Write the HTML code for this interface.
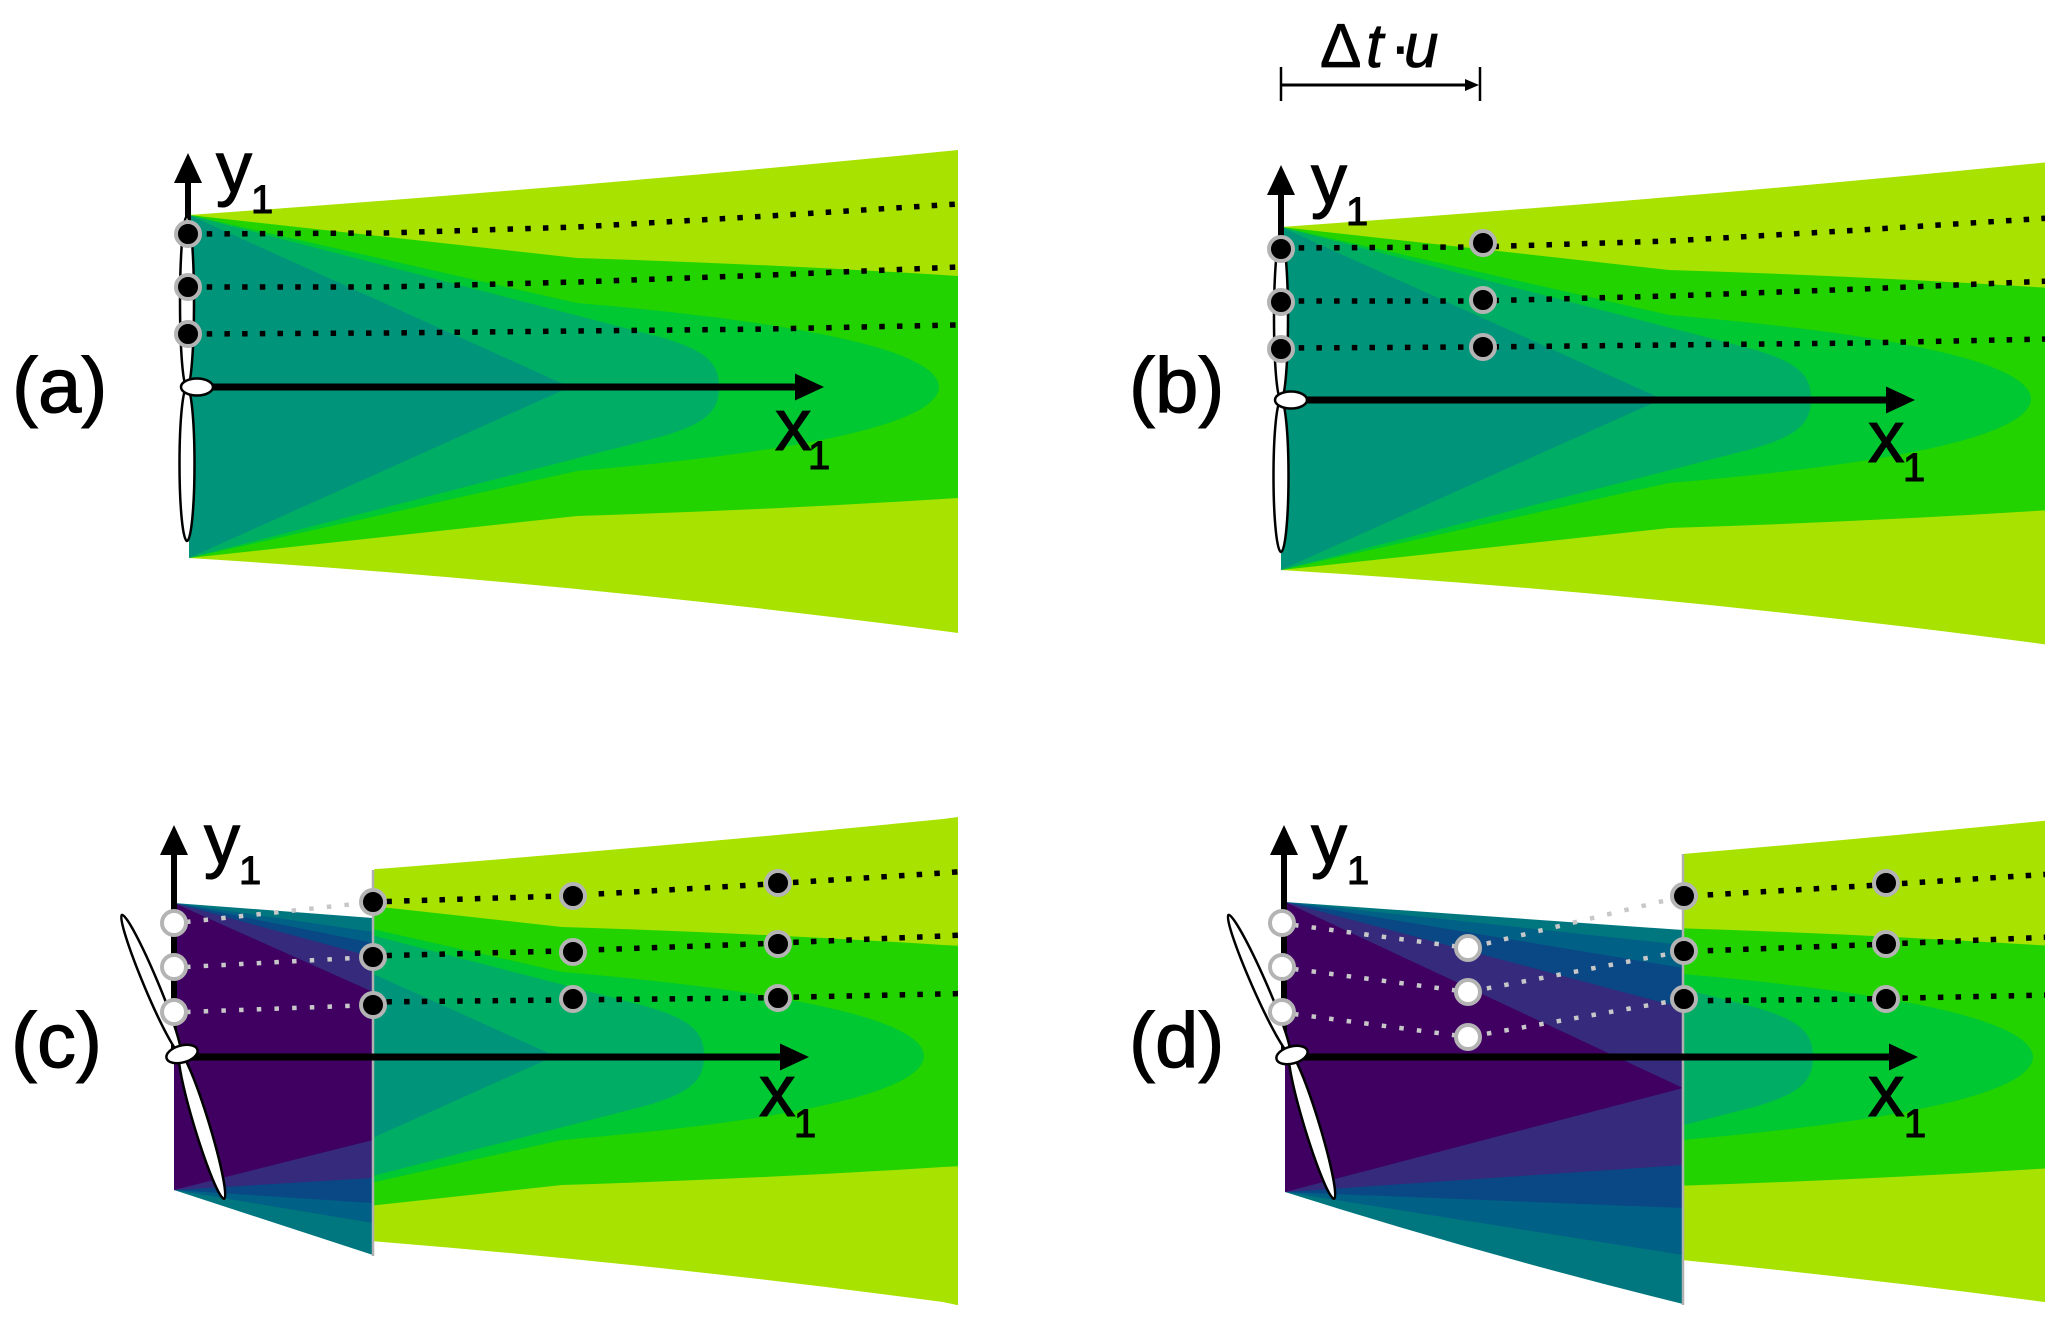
<!DOCTYPE html>
<html>
<head>
<meta charset="utf-8">
<style>
  html,body{margin:0;padding:0;background:#fff;}
  svg{display:block;}
  text{font-family:"Liberation Sans", Arial, sans-serif; fill:#000;}
  .lb{stroke:#000;stroke-width:1.1;}
</style>
</head>
<body>
<svg width="2060" height="1323" viewBox="0 0 2060 1323" xmlns="http://www.w3.org/2000/svg">
  <defs>
    <g id="wake">
      <path fill="#a8e200" d="M189,215 Q575,188 958,150 L995,145 L995,641 L958,633 Q575,582 189,558 Z"/>
      <path fill="#22d300" d="M189,215 L577,258 Q770,264 958,276 L995,278 L995,496 L958,498 Q770,510 577,516 L189,558 Z"/>
      <path fill="#00c832" d="M189,215 L577,303 C800,322 938,350 939,387 C938,424 800,452 577,471 L189,558 Z"/>
      <path fill="#00ad64" d="M189,215 L660,337 C705,350 719,362 719,387 C719,412 705,424 660,437 L189,558 Z"/>
      <path fill="#00957a" d="M189,215 L570,387 L189,558 Z"/>
    </g>
    <g id="lines" fill="none" stroke="#000" stroke-width="5.5" stroke-dasharray="5.5 12.2">
      <polyline points="189,234 385,233 577,227 769,216 958,204 995,201"/>
      <polyline points="189,287 385,287 577,282 769,275 958,267 995,265"/>
      <polyline points="189,334 385,333 577,331 769,329 958,325 995,324"/>
    </g>
    <clipPath id="clipA"><rect x="0" y="0" width="958" height="700"/></clipPath>
    <clipPath id="clipB"><rect x="1100" y="0" width="945" height="700"/></clipPath>
    <clipPath id="clipC"><rect x="374" y="700" width="584" height="623"/></clipPath>
    <clipPath id="clipD"><rect x="1684" y="700" width="361" height="623"/></clipPath>
  </defs>

  <!-- ===================== (a) ===================== -->
  <g clip-path="url(#clipA)">
    <use href="#wake"/>
    <use href="#lines"/>
  </g>
  <line x1="188" y1="387" x2="188" y2="180" stroke="#000" stroke-width="6"/>
  <polygon points="188,153 174,183 202,183" fill="#000"/>
  <line x1="197" y1="387" x2="797" y2="387" stroke="#000" stroke-width="7"/>
  <polygon points="824,387 795,373.5 795,400.5" fill="#000"/>
  <ellipse cx="187" cy="302" rx="7" ry="86" fill="#fff" stroke="#000" stroke-width="2.5"/>
  <ellipse cx="187" cy="464" rx="7.5" ry="77" fill="#fff" stroke="#000" stroke-width="2.5"/>
  <ellipse cx="197" cy="387" rx="16" ry="8.5" fill="#fff" stroke="#000" stroke-width="2.5"/>
  <g fill="#000" stroke="#b4b4b4" stroke-width="4">
    <circle cx="188" cy="234" r="12"/>
    <circle cx="188" cy="287" r="12"/>
    <circle cx="188" cy="334" r="12"/>
  </g>
  <text class="lb" x="216" y="192" font-size="72">y</text>
  <text class="lb" x="251" y="213" font-size="40">1</text>
  <text class="lb" x="775" y="450" font-size="73">x</text>
  <text class="lb" x="808" y="469" font-size="40">1</text>
  <text class="lb" x="12" y="412" font-size="78">(a)</text>

  <!-- ===================== (b) ===================== -->
  <g clip-path="url(#clipB)">
    <use href="#wake" transform="translate(1092,12)"/>
    <use href="#lines" transform="translate(1092,14)"/>
  </g>
  <line x1="1281" y1="400" x2="1281" y2="192" stroke="#000" stroke-width="6"/>
  <polygon points="1281,165 1267,195 1295,195" fill="#000"/>
  <line x1="1291" y1="400" x2="1888" y2="400" stroke="#000" stroke-width="7"/>
  <polygon points="1915,400 1886,386.5 1886,413.5" fill="#000"/>
  <ellipse cx="1281" cy="318" rx="7" ry="82" fill="#fff" stroke="#000" stroke-width="2.5"/>
  <ellipse cx="1281" cy="476" rx="7.5" ry="76" fill="#fff" stroke="#000" stroke-width="2.5"/>
  <ellipse cx="1291" cy="400" rx="16" ry="8.5" fill="#fff" stroke="#000" stroke-width="2.5"/>
  <g fill="#000" stroke="#b4b4b4" stroke-width="4">
    <circle cx="1281" cy="249" r="12"/>
    <circle cx="1281" cy="302" r="12"/>
    <circle cx="1281" cy="349" r="12"/>
    <circle cx="1483" cy="243" r="12"/>
    <circle cx="1483" cy="300" r="12"/>
    <circle cx="1483" cy="347" r="12"/>
  </g>
  <text class="lb" x="1311" y="204" font-size="72">y</text>
  <text class="lb" x="1346" y="225" font-size="40">1</text>
  <text class="lb" x="1868" y="462" font-size="73">x</text>
  <text class="lb" x="1903" y="481" font-size="40">1</text>
  <text class="lb" x="1129" y="412" font-size="78">(b)</text>

  <!-- delta t u -->
  <text class="lb" y="67" font-size="62" style="stroke-width:0.8"><tspan x="1320">Δ</tspan><tspan x="1366" font-style="italic">t</tspan><tspan x="1390">·</tspan><tspan x="1404" font-style="italic">u</tspan></text>
  <line x1="1281" y1="67" x2="1281" y2="101" stroke="#000" stroke-width="2.5"/>
  <line x1="1480" y1="67" x2="1480" y2="101" stroke="#000" stroke-width="2.5"/>
  <line x1="1281" y1="85" x2="1468" y2="85" stroke="#000" stroke-width="3"/>
  <polygon points="1479,85 1465,79 1465,91" fill="#000"/>

  <!-- ===================== (c) ===================== -->
  <path fill="#00777f" d="M174,903 L373,918 L373,1255 L174,1190 Z"/>
  <path fill="#006085" d="M174,903 L373,932 L373,1223 L174,1190 Z"/>
  <path fill="#0a4785" d="M174,903 L373,943 L373,1203 L174,1190 Z"/>
  <path fill="#352a7c" d="M174,903 L373,957 L373,1178 L174,1190 Z"/>
  <path fill="#3f0062" d="M174,903 L373,992 L373,1140 L174,1190 Z"/>
  <g clip-path="url(#clipC)">
    <use href="#wake" transform="translate(-15,669)"/>
    <use href="#lines" transform="translate(-15,669)"/>
  </g>
  <line x1="373" y1="870" x2="373" y2="1256" stroke="#b0b0b0" stroke-width="2.5"/>
  <g fill="none" stroke="#c8c8c8" stroke-width="4.5" stroke-dasharray="4.5 13.2">
    <line x1="186" y1="922" x2="373" y2="902"/>
    <line x1="186" y1="967" x2="373" y2="957"/>
    <line x1="186" y1="1012" x2="373" y2="1005"/>
  </g>
  <line x1="174" y1="1053" x2="174" y2="852" stroke="#000" stroke-width="6"/>
  <polygon points="174,825 160,855 188,855" fill="#000"/>
  <line x1="182" y1="1057" x2="782" y2="1057" stroke="#000" stroke-width="7"/>
  <polygon points="809,1057 780,1043.5 780,1070.5" fill="#000"/>
  <ellipse cx="151" cy="984" rx="7" ry="75" transform="rotate(-22.8 151 984)" fill="#fff" stroke="#000" stroke-width="2.5"/>
  <ellipse cx="202" cy="1126" rx="7.5" ry="76" transform="rotate(-16.9 202 1126)" fill="#fff" stroke="#000" stroke-width="2.5"/>
  <ellipse cx="182" cy="1054" rx="16" ry="8.5" transform="rotate(-15 182 1054)" fill="#fff" stroke="#000" stroke-width="2.5"/>
  <g fill="#fff" stroke="#b4b4b4" stroke-width="4">
    <circle cx="174" cy="923" r="12"/>
    <circle cx="174" cy="967" r="12"/>
    <circle cx="174" cy="1012" r="12"/>
  </g>
  <g fill="#000" stroke="#b4b4b4" stroke-width="4">
    <circle cx="373" cy="902" r="12"/>
    <circle cx="373" cy="957" r="12"/>
    <circle cx="373" cy="1005" r="12"/>
    <circle cx="573" cy="896" r="12"/>
    <circle cx="573" cy="952" r="12"/>
    <circle cx="573" cy="999" r="12"/>
    <circle cx="778" cy="883" r="12"/>
    <circle cx="778" cy="944" r="12"/>
    <circle cx="778" cy="998" r="12"/>
  </g>
  <text class="lb" x="204" y="864" font-size="72">y</text>
  <text class="lb" x="239" y="884" font-size="40">1</text>
  <text class="lb" x="759" y="1116" font-size="73">x</text>
  <text class="lb" x="794" y="1137" font-size="40">1</text>
  <text class="lb" x="11" y="1067" font-size="78">(c)</text>

  <!-- ===================== (d) ===================== -->
  <path fill="#00777f" d="M1285,902 L1683,930 L1683,1304 Q1484,1255 1285,1192 Z"/>
  <path fill="#006085" d="M1285,902 L1683,945 L1683,1255 L1285,1192 Z"/>
  <path fill="#0a4785" d="M1285,902 L1683,968 L1683,1208 L1285,1192 Z"/>
  <path fill="#352a7c" d="M1285,902 L1683,1008 L1683,1165 L1285,1192 Z"/>
  <path fill="#3f0062" d="M1285,902 L1683,1088 L1285,1192 Z"/>
  <g clip-path="url(#clipD)">
    <use href="#wake" transform="translate(1094,670)"/>
    <use href="#lines" transform="translate(1094,670)"/>
  </g>
  <line x1="1683" y1="854" x2="1683" y2="1305" stroke="#b0b0b0" stroke-width="2.5"/>
  <g fill="none" stroke="#c8c8c8" stroke-width="4.5" stroke-dasharray="4.5 13.2">
    <polyline points="1294,925 1468,948 1684,896"/>
    <polyline points="1294,969 1468,992 1684,951"/>
    <polyline points="1294,1014 1468,1037 1684,999"/>
  </g>
  <line x1="1284" y1="1055" x2="1284" y2="852" stroke="#000" stroke-width="6"/>
  <polygon points="1284,825 1270,855 1298,855" fill="#000"/>
  <line x1="1292" y1="1057" x2="1891" y2="1057" stroke="#000" stroke-width="7"/>
  <polygon points="1918,1057 1889,1043.5 1889,1070.5" fill="#000"/>
  <ellipse cx="1259" cy="984" rx="7" ry="75.5" transform="rotate(-23.8 1259 984)" fill="#fff" stroke="#000" stroke-width="2.5"/>
  <ellipse cx="1312" cy="1126" rx="7.5" ry="76" transform="rotate(-16.9 1312 1126)" fill="#fff" stroke="#000" stroke-width="2.5"/>
  <ellipse cx="1292" cy="1055" rx="16" ry="8.5" transform="rotate(-15 1292 1055)" fill="#fff" stroke="#000" stroke-width="2.5"/>
  <g fill="#fff" stroke="#b4b4b4" stroke-width="4">
    <circle cx="1282" cy="923" r="12"/>
    <circle cx="1282" cy="967" r="12"/>
    <circle cx="1282" cy="1012" r="12"/>
    <circle cx="1468" cy="948" r="12"/>
    <circle cx="1468" cy="992" r="12"/>
    <circle cx="1468" cy="1037" r="12"/>
  </g>
  <g fill="#000" stroke="#b4b4b4" stroke-width="4">
    <circle cx="1684" cy="896" r="12"/>
    <circle cx="1684" cy="951" r="12"/>
    <circle cx="1684" cy="999" r="12"/>
    <circle cx="1886" cy="883" r="12"/>
    <circle cx="1886" cy="944" r="12"/>
    <circle cx="1886" cy="999" r="12"/>
  </g>
  <text class="lb" x="1311" y="864" font-size="72">y</text>
  <text class="lb" x="1347" y="884" font-size="40">1</text>
  <text class="lb" x="1868" y="1116" font-size="73">x</text>
  <text class="lb" x="1904" y="1137" font-size="40">1</text>
  <text class="lb" x="1129" y="1067" font-size="78">(d)</text>
</svg>
</body>
</html>
